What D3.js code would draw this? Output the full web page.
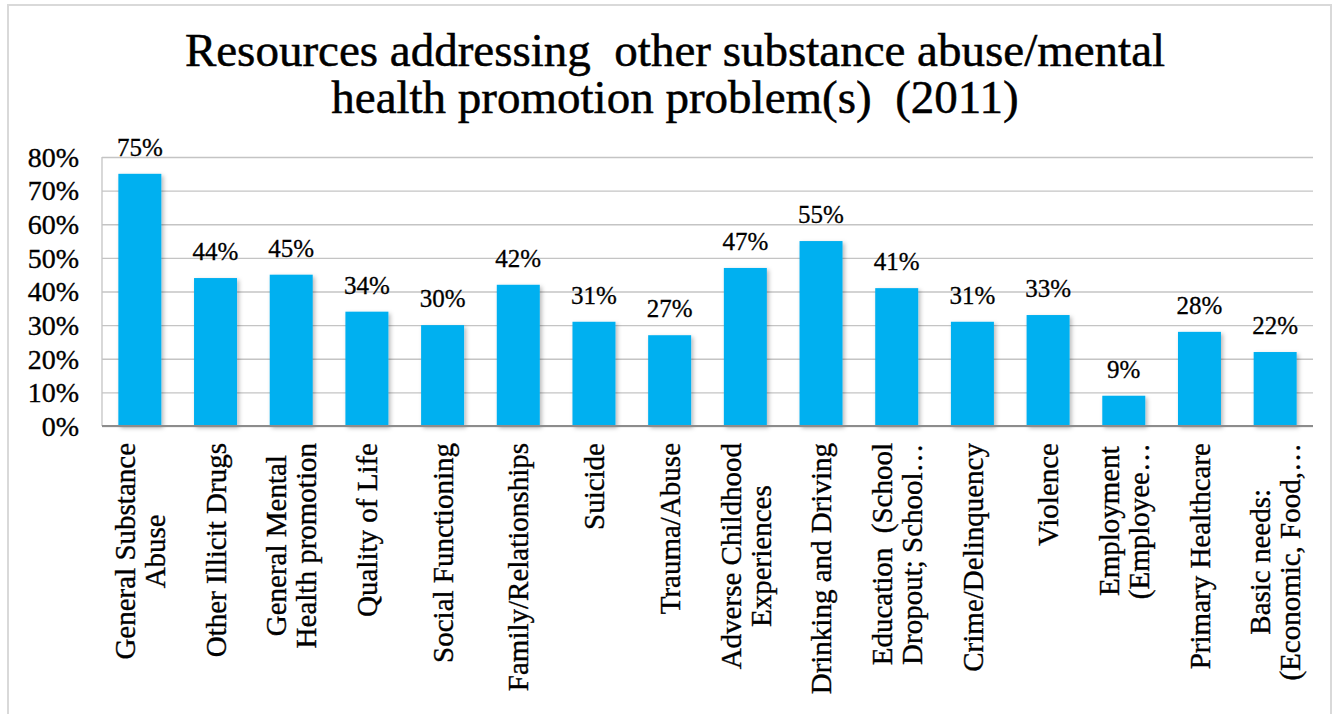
<!DOCTYPE html>
<html>
<head>
<meta charset="utf-8">
<script src="https://cdn.jsdelivr.net/npm/d3@7"></script>
<style>
  html, body { margin: 0; padding: 0; background: #ffffff; }
  svg { display: block; }
  text { font-family: "Liberation Serif", "Times New Roman", serif; fill: #000; white-space: pre; }
</style>
</head>
<body>
<svg id="chart" width="1344" height="714"></svg>
<script>
// Chart data
const titleLines = [
  "Resources addressing  other substance abuse/mental",
  "health promotion problem(s)  (2011)"
];
const categories = [
  ["General Substance", "Abuse"],
  ["Other Illicit Drugs"],
  ["General Mental", "Health promotion"],
  ["Quality of Life"],
  ["Social Functioning"],
  ["Family/Relationships"],
  ["Suicide"],
  ["Trauma/Abuse"],
  ["Adverse Childhood", "Experiences"],
  ["Drinking and Driving"],
  ["Education  (School", "Dropout; School\u2026"],
  ["Crime/Delinquency"],
  ["Violence"],
  ["Employment", "(Employee\u2026"],
  ["Primary Healthcare"],
  ["Basic needs:", "(Economic, Food,\u2026"]
];
const values = [75, 44, 45, 34, 30, 42, 31, 27, 47, 55, 41, 31, 33, 9, 28, 22];
const yTicks = [0, 10, 20, 30, 40, 50, 60, 70, 80];

const svg = d3.select("#chart");
const plot = { left: 102, right: 1313, top: 157, bottom: 426 };

// Drop shadow for bars
const defs = svg.append("defs");
const shadow = defs.append("filter").attr("id", "barShadow")
  .attr("x", "-20%").attr("y", "-10%").attr("width", "150%").attr("height", "130%");
shadow.append("feDropShadow")
  .attr("dx", 2).attr("dy", 2).attr("stdDeviation", 2)
  .attr("flood-color", "#000").attr("flood-opacity", 0.28);

// Outer chart border
svg.append("rect")
  .attr("x", 8).attr("y", 5).attr("width", 1323).attr("height", 730)
  .attr("fill", "#fff").attr("stroke", "#d9d9d9").attr("stroke-width", 2);

// Title
svg.append("g").selectAll("text").data(titleLines).join("text")
  .attr("x", 675)
  .attr("y", (d, i) => 66 + i * 47)
  .attr("text-anchor", "middle")
  .attr("font-size", 47)
  .attr("stroke", "#000").attr("stroke-width", 0.5)
  .text(d => d);

const x = d3.scaleBand()
  .domain(d3.range(categories.length))
  .range([plot.left, plot.right])
  .paddingInner(0.432)
  .paddingOuter(0.216);

const y = d3.scaleLinear()
  .domain([0, 80])
  .range([plot.bottom, plot.top]);

// Gridlines
const grid = svg.append("g")
  .attr("transform", `translate(${plot.left},0)`)
  .call(d3.axisLeft(y).tickValues(yTicks).tickSize(-(plot.right - plot.left)).tickFormat(""));
grid.select(".domain").remove();
grid.selectAll(".tick line").attr("stroke", "#c4c4c4").attr("stroke-width", 1.3);

// Plot-area left edge
svg.append("line")
  .attr("x1", plot.left).attr("x2", plot.left)
  .attr("y1", plot.top).attr("y2", plot.bottom)
  .attr("stroke", "#c4c4c4").attr("stroke-width", 1.3);

// Y axis labels
const yAxis = svg.append("g")
  .attr("transform", `translate(79,0)`)
  .call(d3.axisLeft(y).tickValues(yTicks).tickSize(0).tickPadding(0).tickFormat(d => d + "%"));
yAxis.select(".domain").remove();
yAxis.selectAll("text")
  .attr("font-family", "Liberation Serif, serif")
  .attr("font-size", 28)
  .attr("fill", "#000")
  .attr("stroke", "#000").attr("stroke-width", 0.35)
  .attr("dy", "0.33em");

// Bars
svg.append("g").selectAll("rect").data(values).join("rect")
  .attr("x", (d, i) => x(i))
  .attr("y", d => y(d))
  .attr("width", x.bandwidth())
  .attr("height", d => y(0) - y(d))
  .attr("fill", "#00b0f0")
  .attr("filter", "url(#barShadow)");

// Category axis line
svg.append("line")
  .attr("x1", plot.left).attr("x2", plot.right)
  .attr("y1", plot.bottom).attr("y2", plot.bottom)
  .attr("stroke", "#8c8c8c").attr("stroke-width", 2);

// Value labels
svg.append("g").selectAll("text").data(values).join("text")
  .attr("x", (d, i) => x(i) + x.bandwidth() / 2)
  .attr("y", d => y(d) - 18)
  .attr("text-anchor", "middle")
  .attr("font-size", 25)
  .attr("stroke", "#000").attr("stroke-width", 0.3)
  .text(d => d + "%");

// Category labels, rotated
const lineH = 30;
const labelTop = 443;
const catG = svg.append("g").selectAll("g").data(categories).join("g")
  .attr("transform", (d, i) => `translate(${x(i) + x.bandwidth() / 2},${labelTop}) rotate(-90)`);

catG.each(function (lines) {
  const g = d3.select(this);
  const texts = g.selectAll("text").data(lines).join("text")
    .attr("font-size", 29)
    .attr("stroke", "#000").attr("stroke-width", 0.35)
    .attr("dy", "0.35em")
    .text(d => d);
  const widths = [];
  texts.each(function () { widths.push(this.getComputedTextLength()); });
  const maxW = d3.max(widths);
  const n = lines.length;
  texts
    .attr("text-anchor", "middle")
    .attr("x", -maxW / 2)
    .attr("y", (d, i) => (i - (n - 1) / 2) * lineH);
});
</script>
</body>
</html>
